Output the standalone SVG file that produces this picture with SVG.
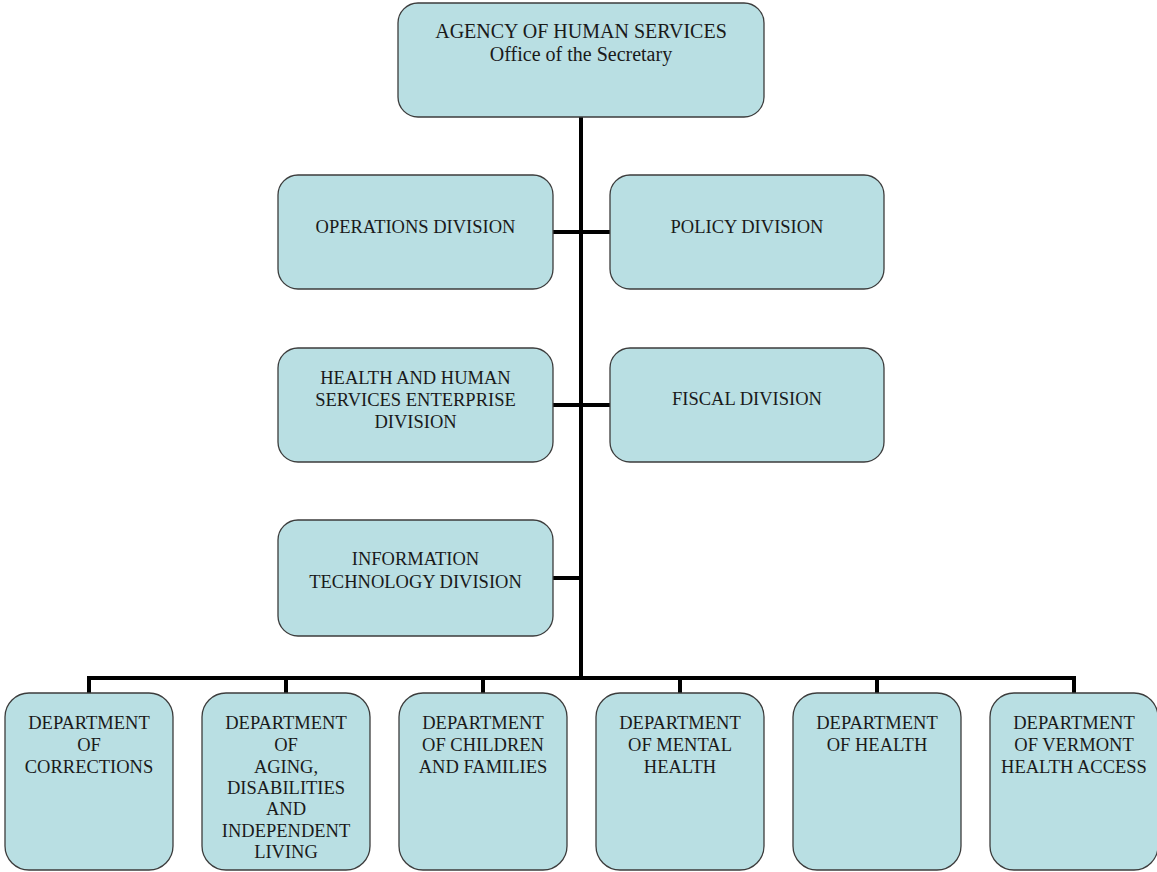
<svg xmlns="http://www.w3.org/2000/svg" width="1157" height="872" viewBox="0 0 1157 872">
<style>
.box{fill:#b9dfe3;stroke:#3c3c3c;stroke-width:1.3}
text{font-family:'Liberation Serif','Times New Roman','DejaVu Serif',serif;font-size:18.5px;fill:#1a1a1a;text-anchor:middle}
.big{font-size:20px}
.c{stroke:#000;stroke-width:4;fill:none}
</style>
<rect width="1157" height="872" fill="#fff"/>
<g id="connectors">
<line class="c" x1="581" y1="117" x2="581" y2="680"/>
<line class="c" x1="553" y1="232" x2="610" y2="232"/>
<line class="c" x1="553" y1="405" x2="610" y2="405"/>
<line class="c" x1="553" y1="578" x2="581" y2="578"/>
<path class="c" d="M89 693V678H1074V693M286 678V693M483 678V693M680 678V693M877 678V693"/>
</g>
<g id="agency">
<rect class="box" x="398" y="3" width="366" height="114" rx="20"/>
<text class="big" x="581" y="38">AGENCY OF HUMAN SERVICES</text>
<text class="big" x="581" y="61">Office of the Secretary</text>
</g>
<g id="operations">
<rect class="box" x="278" y="175" width="275" height="114" rx="20"/>
<text x="415.5" y="233">OPERATIONS DIVISION</text>
</g>
<g id="policy">
<rect class="box" x="610" y="175" width="274" height="114" rx="20"/>
<text x="747" y="233">POLICY DIVISION</text>
</g>
<g id="hhse">
<rect class="box" x="278" y="348" width="275" height="114" rx="20"/>
<text x="415.5" y="384">HEALTH AND HUMAN</text>
<text x="415.5" y="406">SERVICES ENTERPRISE</text>
<text x="415.5" y="428">DIVISION</text>
</g>
<g id="fiscal">
<rect class="box" x="610" y="348" width="274" height="114" rx="20"/>
<text x="747" y="405">FISCAL DIVISION</text>
</g>
<g id="it">
<rect class="box" x="278" y="520" width="275" height="116" rx="20"/>
<text x="415.5" y="565">INFORMATION</text>
<text x="415.5" y="588">TECHNOLOGY DIVISION</text>
</g>
<g id="corrections">
<rect class="box" x="5" y="693" width="168" height="177" rx="24"/>
<text x="89" y="729">DEPARTMENT</text>
<text x="89" y="751">OF</text>
<text x="89" y="773">CORRECTIONS</text>
</g>
<g id="aging">
<rect class="box" x="202" y="693" width="168" height="177" rx="24"/>
<text x="286" y="729">DEPARTMENT</text>
<text x="286" y="751">OF</text>
<text x="286" y="773">AGING,</text>
<text x="286" y="794">DISABILITIES</text>
<text x="286" y="815">AND</text>
<text x="286" y="837">INDEPENDENT</text>
<text x="286" y="858">LIVING</text>
</g>
<g id="children">
<rect class="box" x="399" y="693" width="168" height="177" rx="24"/>
<text x="483" y="729">DEPARTMENT</text>
<text x="483" y="751">OF CHILDREN</text>
<text x="483" y="773">AND FAMILIES</text>
</g>
<g id="mental">
<rect class="box" x="596" y="693" width="168" height="177" rx="24"/>
<text x="680" y="729">DEPARTMENT</text>
<text x="680" y="751">OF MENTAL</text>
<text x="680" y="773">HEALTH</text>
</g>
<g id="health">
<rect class="box" x="793" y="693" width="168" height="177" rx="24"/>
<text x="877" y="729">DEPARTMENT</text>
<text x="877" y="751">OF HEALTH</text>
</g>
<g id="vermont">
<rect class="box" x="990" y="693" width="168" height="177" rx="24"/>
<text x="1074" y="729">DEPARTMENT</text>
<text x="1074" y="751">OF VERMONT</text>
<text x="1074" y="773">HEALTH ACCESS</text>
</g>
</svg>
